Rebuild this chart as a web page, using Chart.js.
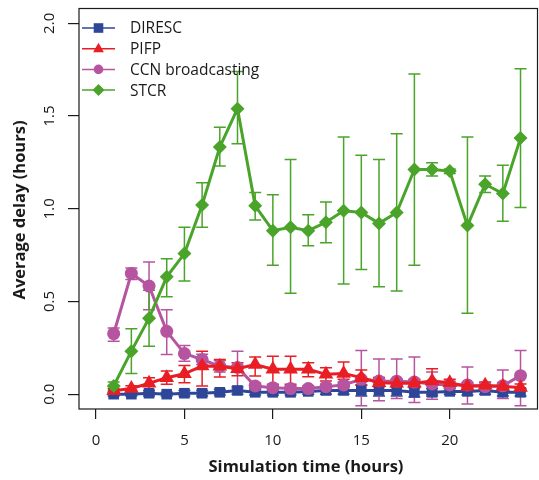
<!DOCTYPE html>
<html>
<head>
<meta charset="utf-8">
<script src="https://cdn.jsdelivr.net/npm/chart.js@4/dist/chart.umd.min.js"></script>
<style>
  html, body { margin: 0; padding: 0; background: #fff; overflow: hidden; }
  #wrap { width: 546px; height: 480px; position: relative; }
</style>
</head>
<body>
<div id="wrap"><canvas id="delay-chart"></canvas></div>
<script>
// Simulation hours
const hours = [1, 2, 3, 4, 5, 6, 7, 8, 9, 10, 11, 12, 13, 14, 15, 16, 17, 18, 19, 20, 21, 22, 23, 24]

// Average delay (hours) per scheme
const direscMean = [0.0, 0.0, 0.005, 0.0, 0.005, 0.005, 0.01, 0.02, 0.01, 0.01, 0.01, 0.015, 0.02, 0.02, 0.02, 0.02, 0.02, 0.01, 0.01, 0.015, 0.015, 0.02, 0.01, 0.01]
const direscLow  = [-0.01, -0.01, -0.01, -0.01, -0.01, -0.01, -0.005, 0.0, -0.005, -0.005, -0.005, 0.0, 0.0, 0.0, -0.01, -0.01, -0.01, -0.015, -0.01, 0.0, -0.005, 0.0, -0.01, -0.01]
const direscHigh = [0.01, 0.01, 0.02, 0.01, 0.02, 0.02, 0.025, 0.04, 0.025, 0.025, 0.025, 0.03, 0.04, 0.04, 0.05, 0.05, 0.05, 0.035, 0.03, 0.03, 0.035, 0.04, 0.03, 0.03]

const pifpMean = [0.018, 0.03, 0.059, 0.089, 0.11, 0.152, 0.15, 0.137, 0.16, 0.134, 0.134, 0.134, 0.107, 0.112, 0.089, 0.062, 0.059, 0.059, 0.071, 0.062, 0.041, 0.048, 0.041, 0.036]
const pifpLow  = [0.01, 0.02, 0.01, 0.053, 0.062, 0.044, 0.093, 0.1, 0.098, 0.053, 0.053, 0.094, 0.071, 0.08, 0.05, 0.04, 0.04, 0.04, 0.0, 0.04, 0.02, 0.03, 0.02, 0.02]
const pifpHigh = [0.03, 0.045, 0.089, 0.125, 0.155, 0.232, 0.187, 0.17, 0.2, 0.205, 0.205, 0.169, 0.143, 0.173, 0.13, 0.09, 0.08, 0.08, 0.137, 0.08, 0.06, 0.065, 0.06, 0.055]

const ccnMean = [0.326, 0.651, 0.583, 0.339, 0.219, 0.187, 0.15, 0.144, 0.044, 0.035, 0.03, 0.03, 0.04, 0.05, 0.08, 0.071, 0.07, 0.065, 0.055, 0.05, 0.05, 0.04, 0.045, 0.10]
const ccnLow  = [0.285, 0.619, 0.455, 0.214, 0.178, 0.16, 0.12, 0.03, 0.03, 0.02, 0.02, 0.02, 0.03, 0.035, -0.063, -0.036, -0.023, -0.045, -0.027, 0.03, -0.053, 0.03, -0.023, -0.063]
const ccnHigh = [0.357, 0.68, 0.713, 0.455, 0.262, 0.215, 0.18, 0.232, 0.06, 0.05, 0.045, 0.045, 0.055, 0.065, 0.235, 0.19, 0.19, 0.2, 0.12, 0.07, 0.146, 0.06, 0.13, 0.235]

const stcrMean = [0.044, 0.232, 0.41, 0.633, 0.758, 1.02, 1.333, 1.54, 1.016, 0.882, 0.90, 0.882, 0.927, 0.989, 0.98, 0.921, 0.98, 1.212, 1.212, 1.203, 0.909, 1.132, 1.082, 1.381]
const stcrLow  = [0.02, 0.112, 0.258, 0.526, 0.61, 0.90, 1.23, 1.35, 0.94, 0.695, 0.544, 0.80, 0.816, 0.594, 0.672, 0.579, 0.556, 0.695, 1.176, 1.19, 0.437, 1.087, 0.932, 1.007]
const stcrHigh = [0.066, 0.353, 0.56, 0.73, 0.90, 1.14, 1.44, 1.74, 1.087, 1.075, 1.266, 0.968, 1.037, 1.387, 1.289, 1.266, 1.405, 1.727, 1.248, 1.215, 1.387, 1.176, 1.235, 1.755]

// Axis ticks
const xTicks = [0, 5, 10, 15, 20]
const yTicks = [0, 0.5, 1, 1.5, 2]
const yTickLabels = ['0.0', '0.5', '1.0', '1.5', '2.0']

const BLUE = 'rgb(46, 70, 152)'
const RED = 'rgb(232, 30, 36)'
const PURPLE = 'rgb(182, 84, 160)'
const GREEN = 'rgb(74, 164, 42)'

const series = [
  { label: 'DIRESC', mean: direscMean, low: direscLow, high: direscHigh, color: BLUE, style: 'rect', radius: 7.5, order: 3 },
  { label: 'PIFP', mean: pifpMean, low: pifpLow, high: pifpHigh, color: RED, style: 'triangle', radius: 8.5, order: 1 },
  { label: 'CCN broadcasting', mean: ccnMean, low: ccnLow, high: ccnHigh, color: PURPLE, style: 'circle', radius: 6.5, order: 2 },
  { label: 'STCR', mean: stcrMean, low: stcrLow, high: stcrHigh, color: GREEN, style: 'rectRot', radius: 7, order: 0 }
]

const FONT = '"Open Sans", "DejaVu Sans", sans-serif'

// Error bars, drawn under the lines through the chart scales
const errorBars = {
  id: 'errorBars',
  beforeDatasetsDraw(chart) {
    const { ctx, scales: { x, y } } = chart
    ctx.save()
    ctx.lineWidth = 1.5
    series.slice().sort((a, b) => b.order - a.order).forEach(s => {
      ctx.strokeStyle = s.color
      hours.forEach((h, i) => {
        const px = x.getPixelForValue(h)
        const top = y.getPixelForValue(s.high[i])
        const bot = y.getPixelForValue(s.low[i])
        if (bot - top < 3) return
        ctx.beginPath()
        ctx.moveTo(px, top); ctx.lineTo(px, bot)
        ctx.moveTo(px - 6, top); ctx.lineTo(px + 6, top)
        ctx.moveTo(px - 6, bot); ctx.lineTo(px + 6, bot)
        ctx.stroke()
      })
    })
    ctx.restore()
  }
}

function drawMarker(ctx, style, cx, cy, r) {
  ctx.beginPath()
  if (style === 'rect') {
    ctx.rect(cx - r * 0.8, cy - r * 0.8, r * 1.6, r * 1.6)
  } else if (style === 'triangle') {
    ctx.moveTo(cx, cy - r)
    ctx.lineTo(cx + r * 0.9, cy + r * 0.6)
    ctx.lineTo(cx - r * 0.9, cy + r * 0.6)
    ctx.closePath()
  } else if (style === 'circle') {
    ctx.arc(cx, cy, r * 0.8, 0, Math.PI * 2)
  } else {
    ctx.moveTo(cx, cy - r)
    ctx.lineTo(cx + r, cy)
    ctx.lineTo(cx, cy + r)
    ctx.lineTo(cx - r, cy)
    ctx.closePath()
  }
  ctx.fill()
}

// Frame, rotated y labels, axis titles and legend
const decorations = {
  id: 'decorations',
  afterDraw(chart) {
    const { ctx, chartArea: a, scales: { y } } = chart
    ctx.save()
    ctx.strokeStyle = '#1a1a1a'
    ctx.lineWidth = 1.2
    ctx.strokeRect(a.left, a.top, a.right - a.left, a.bottom - a.top)

    ctx.fillStyle = '#1a1a1a'
    ctx.font = '15px ' + FONT
    ctx.textAlign = 'center'
    ctx.textBaseline = 'middle'
    yTicks.forEach((v, i) => {
      ctx.save()
      ctx.translate(50, y.getPixelForValue(v))
      ctx.rotate(-Math.PI / 2)
      ctx.fillText(yTickLabels[i], 0, 0)
      ctx.restore()
    })

    ctx.font = 'bold 16.5px ' + FONT
    ctx.fillText('Simulation time (hours)', 306, 467)
    ctx.save()
    ctx.translate(20, 210)
    ctx.rotate(-Math.PI / 2)
    ctx.fillText('Average delay (hours)', 0, 0)
    ctx.restore()

    ctx.font = '15.5px ' + FONT
    ctx.textAlign = 'left'
    series.forEach((s, i) => {
      const ly = 28 + i * 20.7
      ctx.strokeStyle = s.color
      ctx.fillStyle = s.color
      ctx.lineWidth = 1.5
      ctx.beginPath()
      ctx.moveTo(82, ly); ctx.lineTo(115, ly)
      ctx.stroke()
      drawMarker(ctx, s.style, 98.5, ly, 6)
      ctx.fillStyle = '#1a1a1a'
      ctx.fillText(s.label, 130, ly + 1)
    })
    ctx.restore()
  }
}

const ctx = document.getElementById('delay-chart').getContext('2d')

new Chart(ctx, {
  type: 'line',
  data: {
    datasets: series.map(s => ({
      label: s.label,
      data: hours.map((h, i) => ({ x: h, y: s.mean[i] })),
      borderColor: s.color,
      backgroundColor: s.color,
      borderWidth: 3,
      pointStyle: s.style,
      pointRadius: s.radius,
      pointBorderWidth: 0,
      pointBackgroundColor: s.color,
      tension: 0,
      order: s.order,
      clip: false
    }))
  },
  options: {
    responsive: true,
    maintainAspectRatio: false,
    animation: false,
    layout: { padding: { top: 7, right: 1, left: 0, bottom: 0 } },
    plugins: {
      legend: { display: false },
      tooltip: { enabled: false }
    },
    scales: {
      x: {
        type: 'linear',
        min: -0.96,
        max: 24.96,
        afterBuildTicks: scale => { scale.ticks = xTicks.map(v => ({ value: v })) },
        afterFit: scale => { scale.height = 71 },
        border: { display: false },
        grid: { drawOnChartArea: false, drawTicks: true, tickLength: 10, color: '#1a1a1a', lineWidth: 1.2 },
        ticks: { color: '#1a1a1a', font: { family: FONT, size: 15 }, padding: 13, maxRotation: 0 }
      },
      y: {
        type: 'linear',
        min: -0.08,
        max: 2.08,
        afterBuildTicks: scale => { scale.ticks = yTicks.map(v => ({ value: v })) },
        afterFit: scale => { scale.width = 79 },
        border: { display: false },
        grid: { drawOnChartArea: false, drawTicks: true, tickLength: 11, color: '#1a1a1a', lineWidth: 1.2 },
        ticks: { display: false }
      }
    }
  },
  plugins: [errorBars, decorations]
})
</script>
</body>
</html>
